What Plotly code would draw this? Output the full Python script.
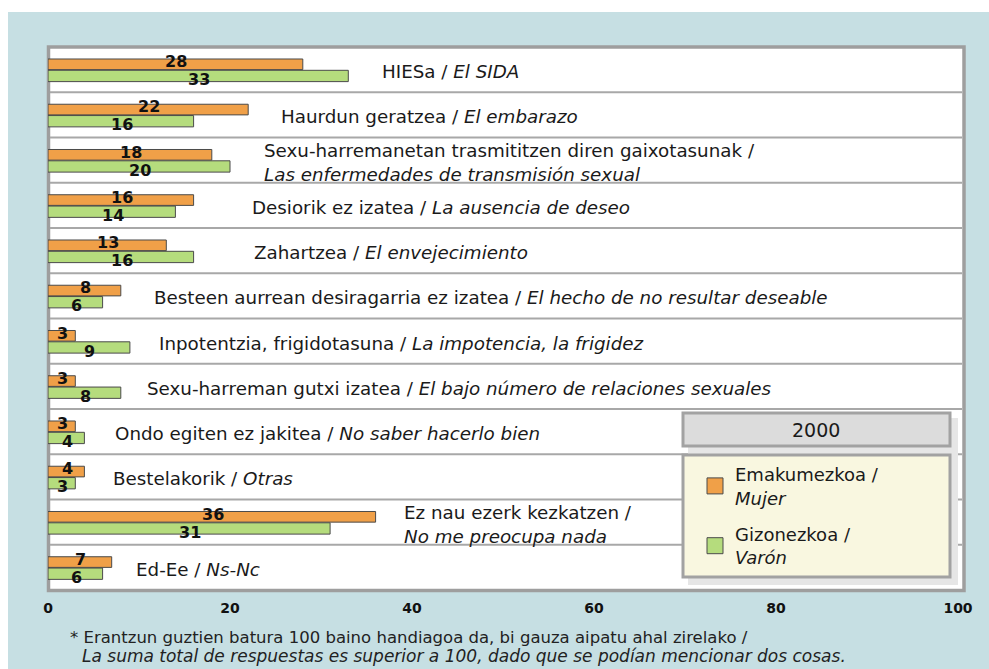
import plotly.graph_objects as go

# ---- data ----
categories = [
    "HIESa / El SIDA",
    "Haurdun geratzea / El embarazo",
    "Sexu-harremanetan trasmititzen diren gaixotasunak / Las enfermedades de transmisión sexual",
    "Desiorik ez izatea / La ausencia de deseo",
    "Zahartzea / El envejecimiento",
    "Besteen aurrean desiragarria ez izatea / El hecho de no resultar deseable",
    "Inpotentzia, frigidotasuna / La impotencia, la frigidez",
    "Sexu-harreman gutxi izatea / El bajo número de relaciones sexuales",
    "Ondo egiten ez jakitea / No saber hacerlo bien",
    "Bestelakorik / Otras",
    "Ez nau ezerk kezkatzen / No me preocupa nada",
    "Ed-Ee / Ns-Nc",
]
label_basque = [
    "HIESa /",
    "Haurdun geratzea /",
    "Sexu-harremanetan trasmititzen diren gaixotasunak /",
    "Desiorik ez izatea /",
    "Zahartzea /",
    "Besteen aurrean desiragarria ez izatea /",
    "Inpotentzia, frigidotasuna /",
    "Sexu-harreman gutxi izatea /",
    "Ondo egiten ez jakitea /",
    "Bestelakorik /",
    "Ez nau ezerk kezkatzen /",
    "Ed-Ee /",
]
label_spanish = [
    "El SIDA",
    "El embarazo",
    "Las enfermedades de transmisión sexual",
    "La ausencia de deseo",
    "El envejecimiento",
    "El hecho de no resultar deseable",
    "La impotencia, la frigidez",
    "El bajo número de relaciones sexuales",
    "No saber hacerlo bien",
    "Otras",
    "No me preocupa nada",
    "Ns-Nc",
]
two_line = [False, False, True, False, False, False, False, False, False, False, True, False]
women = [28, 22, 18, 16, 13, 8, 3, 3, 3, 4, 36, 7]
men = [33, 16, 20, 14, 16, 6, 9, 8, 4, 3, 31, 6]
x_ticks = [0, 20, 40, 60, 80, 100]
series_names = ["Emakumezkoa /<br><i>Mujer</i>", "Gizonezkoa /<br><i>Varón</i>"]
legend_title = "2000"
footnote_1 = "* Erantzun guztien batura 100 baino handiagoa da, bi gauza aipatu ahal zirelako /"
footnote_2 = "La suma total de respuestas es superior a 100, dado que se podían mencionar dos cosas."

# ---- layout helpers (positions, not data) ----
label_x = [36.8, 25.7, 23.8, 22.5, 22.7, 11.8, 12.3, 11.0, 7.5, 7.3, 39.2, 9.8]

W, H = 989, 669
L, R, T, B = 48, 31, 47, 79
PW = W - L - R
PH = H - T - B


def xp(px):
    return (px - L) / PW


def yp(py):
    return (H - B - py) / PH


ORANGE = "#F0A048"
GREEN = "#B5DC7D"
BLUE = "#C6DFE3"
FRAME = "#9E9E9E"
SEP = "#A8A8A8"
TXT = "#1a1a1a"
FONT = "DejaVu Sans"
LBL = 18.3

fig = go.Figure()
fig.add_trace(go.Bar(
    y=categories, x=women, orientation="h", name=series_names[0],
    marker=dict(color=ORANGE, line=dict(color="#4a4a4a", width=1)),
    width=0.235, offset=-0.235, showlegend=False,
))
fig.add_trace(go.Bar(
    y=categories, x=men, orientation="h", name=series_names[1],
    marker=dict(color=GREEN, line=dict(color="#4a4a4a", width=1)),
    width=0.25, offset=0.015, showlegend=False,
))
# legend entries (same colours as bars, larger square keys)
for nm, col, grp in [(series_names[0], ORANGE, "w"), (series_names[1], GREEN, "m")]:
    fig.add_trace(go.Scatter(
        x=[None], y=[None], mode="markers", name=nm, legendgroup=grp,
        marker=dict(symbol="square", size=16, color=col, line=dict(color="#4a4a4a", width=1)),
    ))

annotations = []
for i, c in enumerate(categories):
    annotations.append(dict(x=women[i] / 2, y=c, xref="x", yref="y", text=str(women[i]),
                            showarrow=False, xshift=1, yshift=8,
                            font=dict(family=FONT, size=16, color="#111", weight="bold")))
    annotations.append(dict(x=men[i] / 2, y=c, xref="x", yref="y", text=str(men[i]),
                            showarrow=False, xshift=1, yshift=-10,
                            font=dict(family=FONT, size=16, color="#111", weight="bold")))
    sep = "<br>" if two_line[i] else " "
    annotations.append(dict(x=label_x[i], y=c, xref="x", yref="y",
                            text=f"{label_basque[i]}{sep}<i>{label_spanish[i]}</i>",
                            showarrow=False, xanchor="left", yanchor="middle", align="left",
                            xshift=-3, yshift=-2,
                            font=dict(family=FONT, size=LBL, color=TXT)))

annotations.append(dict(x=xp(816), y=yp(430), xref="paper", yref="paper", text=legend_title,
                        showarrow=False, xanchor="center", yanchor="middle",
                        font=dict(family=FONT, size=19, color=TXT)))
annotations.append(dict(x=xp(68), y=yp(637), xref="paper", yref="paper", text=footnote_1,
                        showarrow=False, xanchor="left", yanchor="middle",
                        font=dict(family=FONT, size=16.5, color="#222")))
annotations.append(dict(x=xp(80), y=yp(656), xref="paper", yref="paper", text=f"<i>{footnote_2}</i>",
                        showarrow=False, xanchor="left", yanchor="middle",
                        font=dict(family=FONT, size=17, color="#222")))

shapes = []
# blue panel
shapes.append(dict(type="rect", xref="paper", yref="paper", x0=xp(8), x1=xp(W + 5),
                   y0=yp(H + 5), y1=yp(12), fillcolor=BLUE, line=dict(width=0), layer="below"))
# white plot frame
shapes.append(dict(type="rect", xref="paper", yref="paper", x0=xp(48.5), x1=xp(964),
                   y0=yp(590.5), y1=yp(47), fillcolor="white",
                   line=dict(color=FRAME, width=3.5), layer="below"))
# row separators
for k in range(1, len(categories)):
    shapes.append(dict(type="line", xref="paper", yref="y", x0=xp(50), x1=xp(962),
                       y0=k - 0.5, y1=k - 0.5, line=dict(color=SEP, width=2), layer="below"))
# legend shadow + boxes
shapes.append(dict(type="rect", xref="paper", yref="paper", x0=xp(688), x1=xp(958),
                   y0=yp(585), y1=yp(418), fillcolor="#e6e6e6", line=dict(width=0), layer="below"))
shapes.append(dict(type="rect", xref="paper", yref="paper", x0=xp(683), x1=xp(950),
                   y0=yp(446), y1=yp(413), fillcolor="#DCDCDC",
                   line=dict(color="#A2A2A2", width=3), layer="below"))
shapes.append(dict(type="rect", xref="paper", yref="paper", x0=xp(683), x1=xp(950),
                   y0=yp(577), y1=yp(455), fillcolor="#F9F7E0",
                   line=dict(color="#A2A2A2", width=3), layer="below"))

fig.update_layout(
    width=W, height=H,
    margin=dict(l=L, r=R, t=T, b=B, pad=0),
    paper_bgcolor="white", plot_bgcolor="rgba(0,0,0,0)",
    barmode="overlay",
    showlegend=True,
    legend=dict(x=xp(695), y=yp(456), xanchor="left", yanchor="top",
                bgcolor="rgba(0,0,0,0)", borderwidth=0, tracegroupgap=10,
                font=dict(family=FONT, size=18, color=TXT)),
    xaxis=dict(range=[0, 100], tickvals=x_ticks, showgrid=False, zeroline=False,
               showline=False, ticks="", fixedrange=True, ticklabelstandoff=8,
               tickfont=dict(family=FONT, size=14, color="#111", weight="bold")),
    yaxis=dict(categoryorder="array", categoryarray=categories, range=[len(categories) - 0.5, -0.5],
               showticklabels=False, showgrid=False, zeroline=False, ticks="", fixedrange=True),
    annotations=annotations,
    shapes=shapes,
    font=dict(family=FONT),
)

fig.write_html("out.html", config={"displayModeBar": False},
               post_script="document.body.style.margin='0';")
